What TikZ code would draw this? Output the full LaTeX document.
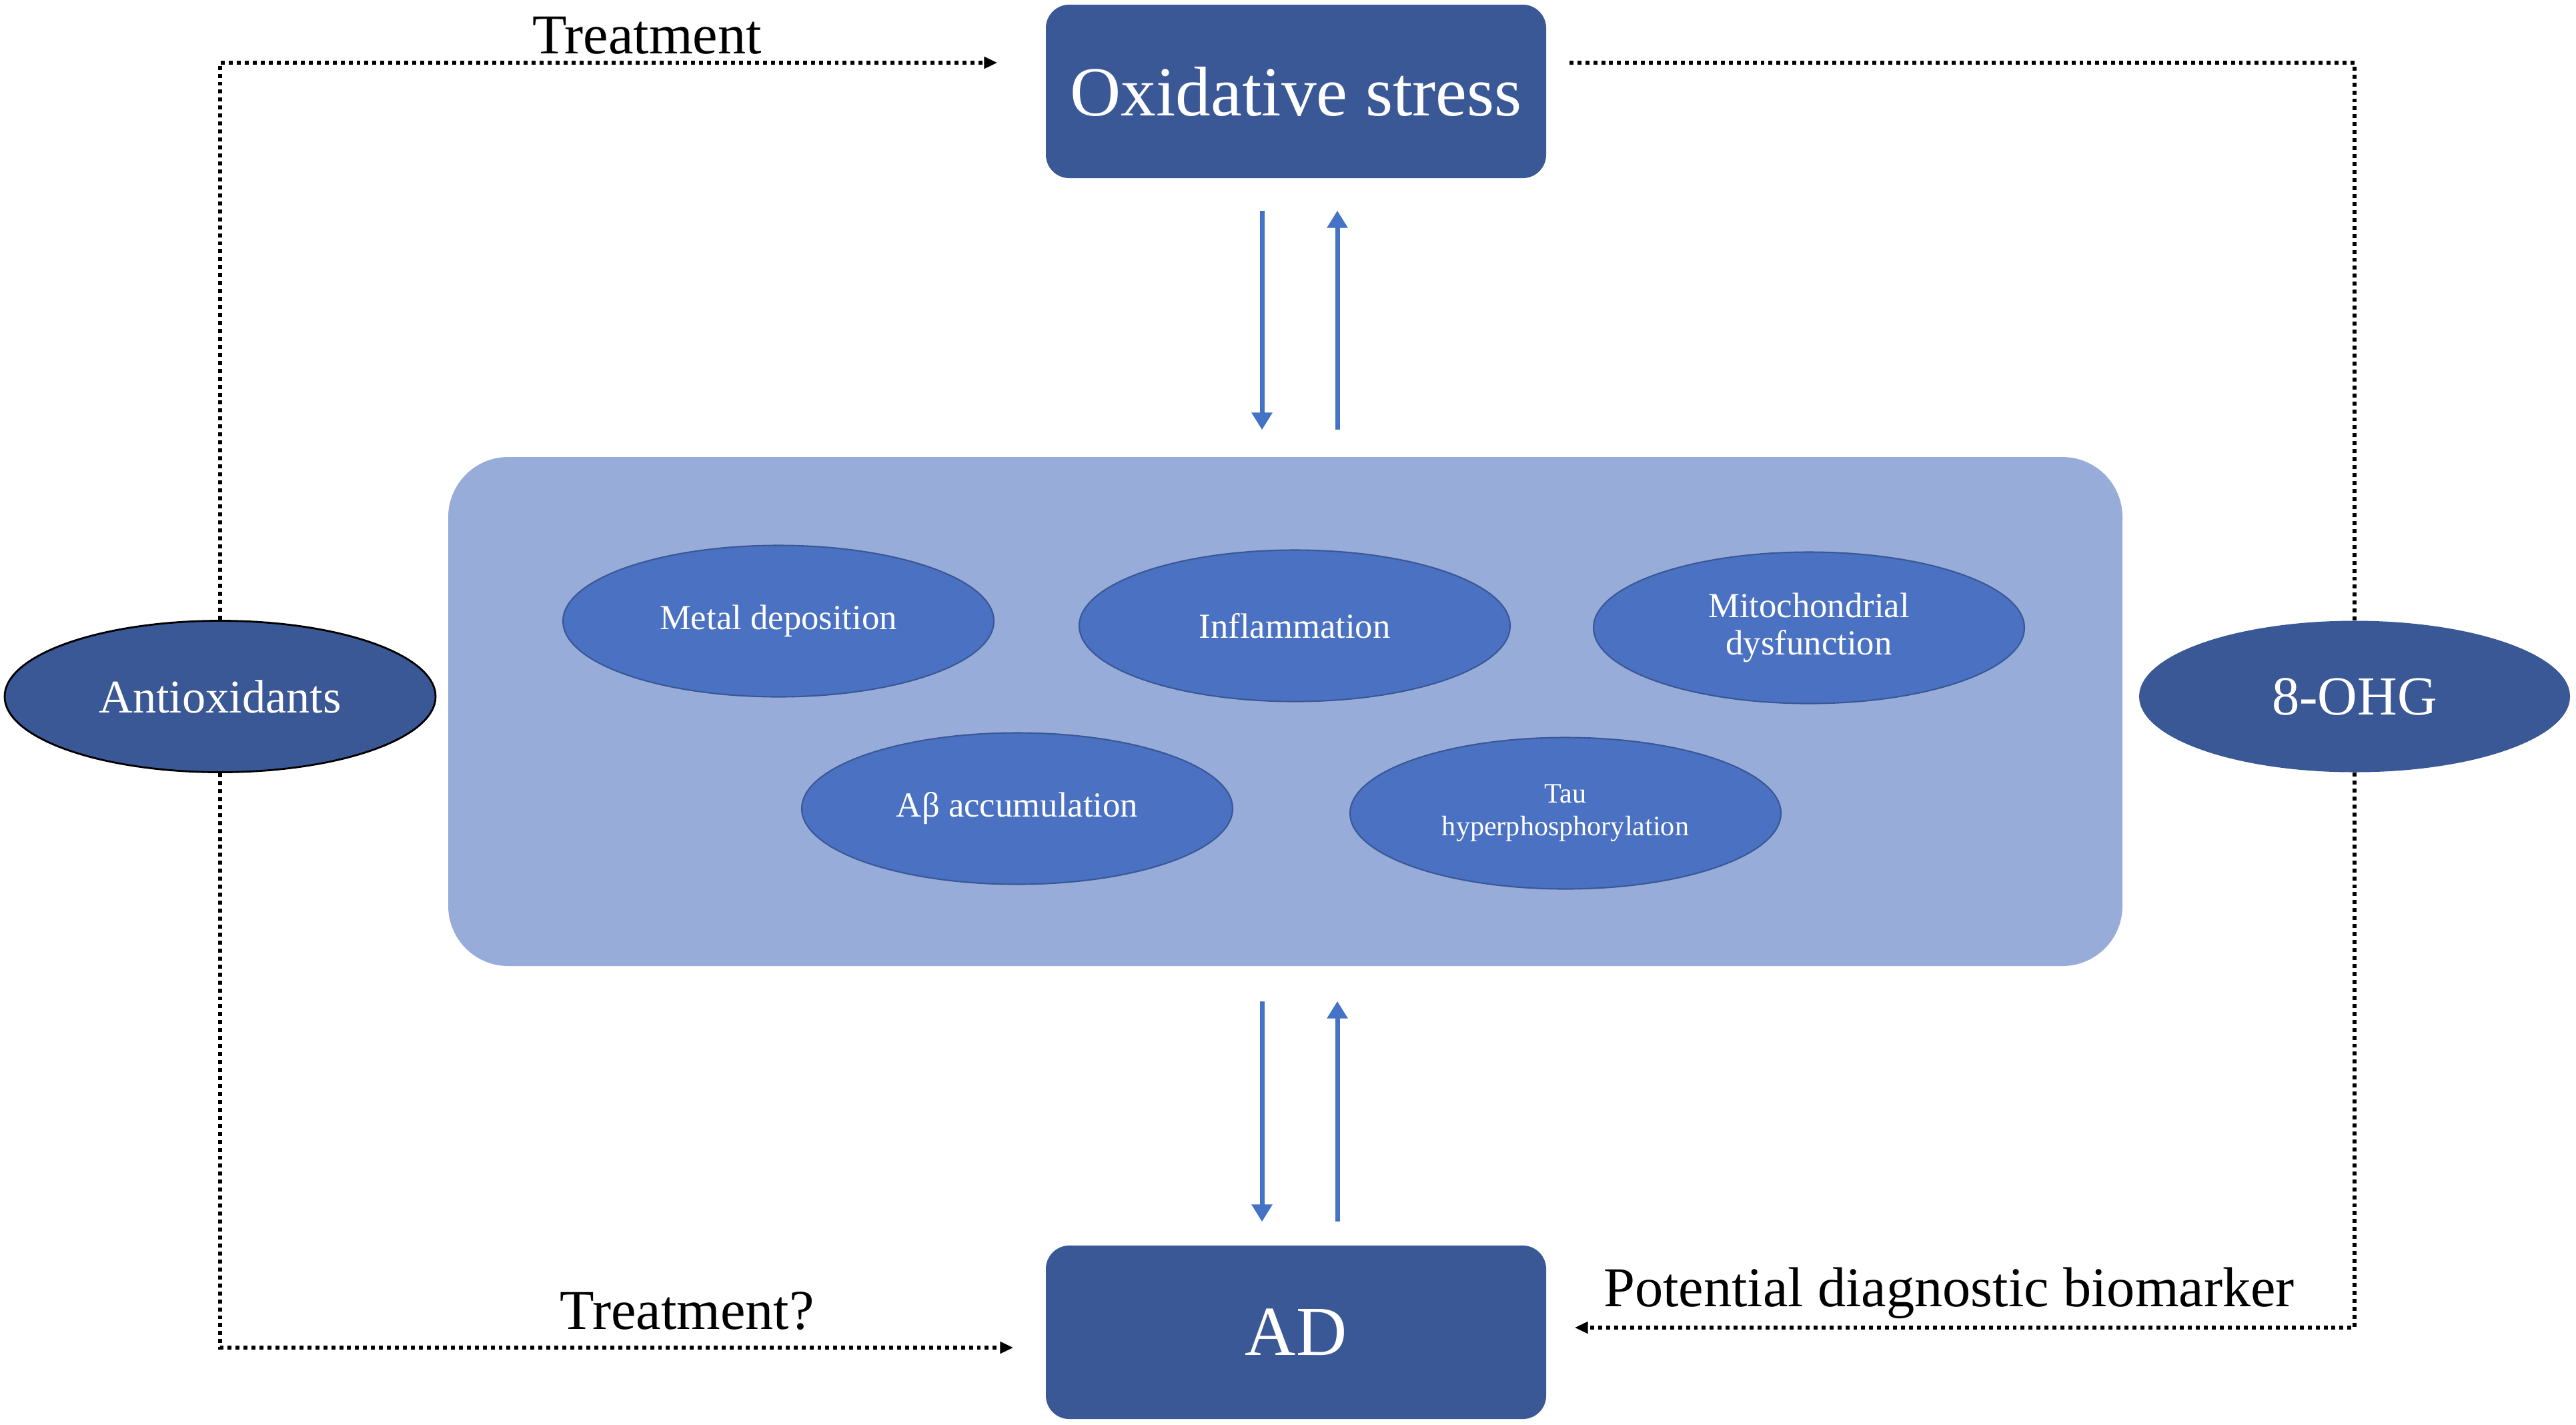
\documentclass[tikz,border=0pt]{standalone}
\usepackage{fontspec}
\setmainfont{Liberation Serif}
\usetikzlibrary{shapes.geometric,arrows.meta,calc}

\definecolor{darkblue}{RGB}{58,87,150}
\definecolor{midblue}{RGB}{74,113,194}
\definecolor{paleblue}{RGB}{151,172,217}
\definecolor{arrowblue}{RGB}{68,114,196}

\begin{document}
\begin{tikzpicture}[
        mainbox/.style={fill=darkblue, text=white, rounded corners=0.35cm, minimum width=7.5cm, minimum height=2.6cm, font=\fontsize{30}{36}\selectfont},
        factor/.style={ellipse, fill=midblue, draw=darkblue, line width=0.6pt, text=white, minimum width=6.46cm, minimum height=2.27cm, inner sep=0pt, align=center, font=\fontsize{15}{16}\selectfont},
        agent/.style={ellipse, fill=darkblue, text=white, minimum width=6.46cm, minimum height=2.27cm, inner sep=0pt},
        flow/.style={arrowblue, line width=2pt, -{Triangle[length=0.26cm, width=0.3cm]}},
        link/.style={black, line width=1.7pt, dash pattern=on 1.7pt off 1.7pt, -{Triangle[length=0.2cm, width=0.17cm]}},
        tag/.style={font=\fontsize{24}{28}\selectfont, inner sep=0pt, anchor=base}
    ]
        \useasboundingbox (0, 0) rectangle (38.62, -21.35);

        \node[mainbox] (OS) at (19.43, -1.37) {Oxidative stress};
        \node[mainbox] (AD) at (19.43, -19.97) {AD};
        \node[fill=paleblue, rounded corners=0.9cm, minimum width=25.1cm, minimum height=7.63cm] (PM) at (19.27, -10.665) {};

        \node[factor] (MD) at (11.67, -9.31) {Metal deposition};
        \node[factor] (IN) at (19.41, -9.38) {Inflammation};
        \node[factor] (MI) at (27.12, -9.41) {Mitochondrial \\ dysfunction};
        \node[factor] (AB) at (15.25, -12.12) {Aβ accumulation};
        \node[factor, font=\fontsize{12}{14}\selectfont] (TH) at (23.47, -12.19) {Tau \\ hyperphosphorylation};

        \node[agent, draw=black, line width=0.8pt, font=\fontsize{20}{24}\selectfont] (AO) at (3.30, -10.44) {Antioxidants};
        \node[agent, font=\fontsize{23.5}{28}\selectfont] (OH) at (35.30, -10.44) {8-OHG};

        \draw[flow] ($(OS.south)+(-0.51,-0.48)$) -- ($(OS.south |- PM.north)+(-0.51,0.40)$);
        \draw[flow] ($(OS.south |- PM.north)+(0.62,0.40)$) -- ($(OS.south)+(0.62,-0.48)$);
        \draw[flow] ($(AD.north |- PM.south)+(-0.51,-0.52)$) -- ($(AD.north)+(-0.51,0.35)$);
        \draw[flow] ($(AD.north)+(0.62,0.35)$) -- ($(AD.north |- PM.south)+(0.62,-0.52)$);

        \draw[link] (AO.north) |- ($(OS.west)+(-0.72,0.43)$);
        \draw[link] (AO.south) |- ($(AD.west)+(-0.48,-0.23)$);
        \draw[link, -] ($(OS.east)+(0.34,0.43)$) -| (OH.north);
        \draw[link] (OH.south) |- ($(AD.east)+(0.42,0.07)$);

        \node[tag] (T1) at (9.70, -0.80) {Treatment};
        \node[tag] (T2) at (10.30, -19.92) {Treatment?};
        \node[tag] (PB) at (29.22, -19.58) {Potential diagnostic biomarker};
    \end{tikzpicture}
\end{document}
